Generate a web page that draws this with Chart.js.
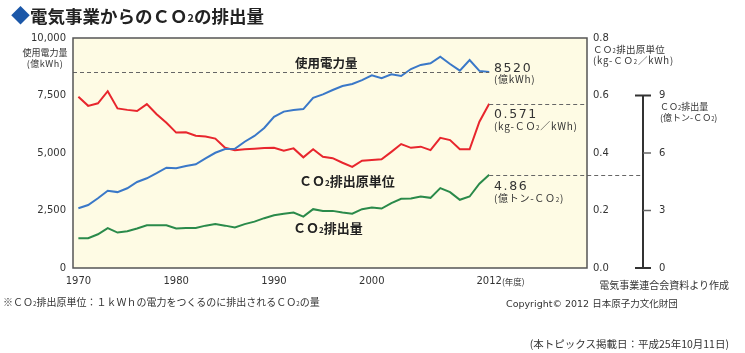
<!DOCTYPE html>
<html lang="ja">
<head>
<meta charset="utf-8">
<script src="https://cdn.jsdelivr.net/npm/chart.js@4.4.1/dist/chart.umd.min.js"></script>
<style>
  body { margin: 0; background: #fff; overflow: hidden; }
  #wrap { position: relative; width: 745px; height: 353px; font-family: "DejaVu Sans", "Noto Sans CJK JP", sans-serif; color: #333; }
  #wrap canvas { position: absolute; left: 0; top: 0; }
  .t { position: absolute; white-space: nowrap; line-height: 1; transform: translateY(-50%); }
  .c { transform: translate(-50%, -50%); }
  .r { transform: translate(-100%, -50%); }
  .jp { font-family: "Noto Sans CJK JP", sans-serif; }
  .b { font-weight: bold; color: #222; }
  .s { font-size: 62%; }
  .num { font-size: 12.5px; letter-spacing: 1.6px; }
  .unit { font-size: 10px; letter-spacing: 0.7px; }
</style>
</head>
<body>
<div id="wrap">
  <canvas id="chart" width="745" height="353"></canvas>

  <div class="t jp b" style="left:11px; top:15px; font-size:17.5px;"><span style="color:#1b57a8; font-size:19px;">◆</span>電気事業からのＣＯ<span class="s" style="vertical-align:0.1em;">2</span>の排出量</div>

  <div class="t c jp" style="left:45px; top:52px; font-size:9px;">使用電力量</div>
  <div class="t c jp" style="left:45px; top:63px; font-size:9px; letter-spacing:0.5px;">(億kWh)</div>

  <div class="t jp b" style="left:295px; top:63px; font-size:12.5px;">使用電力量</div>
  <div class="t jp b" style="left:299px; top:181px; font-size:13px;">ＣＯ<span class="s">2</span>排出原単位</div>
  <div class="t jp b" style="left:293px; top:228px; font-size:13px;">ＣＯ<span class="s">2</span>排出量</div>

  <div class="t num" style="left:494px; top:68px;">8520</div>
  <div class="t jp unit" style="left:494px; top:79px;">(億kWh)</div>
  <div class="t num" style="left:494px; top:114px;">0.571</div>
  <div class="t jp unit" style="left:494px; top:126px;">(kg-ＣＯ<span class="s">2</span>／kWh)</div>
  <div class="t num" style="left:494px; top:186px;">4.86</div>
  <div class="t jp unit" style="left:494px; top:198px;">(億トン-ＣＯ<span class="s">2</span>)</div>

  <div class="t jp" style="left:593px; top:50px; font-size:9.5px; letter-spacing:0.3px;">ＣＯ<span class="s">2</span>排出原単位</div>
  <div class="t jp" style="left:593px; top:61px; font-size:9.5px; letter-spacing:0.8px;">(kg-ＣＯ<span class="s">2</span>／kWh)</div>
  <div class="t jp" style="left:660px; top:107px; font-size:9px;">ＣＯ<span class="s">2</span>排出量</div>
  <div class="t jp" style="left:660px; top:118px; font-size:9px;">(億トン-ＣＯ<span class="s">2</span>)</div>

  <div class="t jp" style="left:502px; top:281px; font-size:8.5px;">(年度)</div>

  <div class="t jp" style="left:3px; top:302px; font-size:10px;">※ＣＯ<span class="s">2</span>排出原単位：１ｋＷｈの電力をつくるのに排出されるＣＯ<span class="s">2</span>の量</div>
  <div class="t r jp" style="left:729px; top:285px; font-size:10px;">電気事業連合会資料より作成</div>
  <div class="t" style="left:506px; top:304px; font-size:9.5px;">Copyright© 2012 <span class="jp">日本原子力文化財団</span></div>
  <div class="t r jp" style="left:729px; top:344px; font-size:10.5px;">(本トピックス掲載日：平成25年10月11日)</div>
</div>

<script>
// fiscal years
const years = [1970, 1971, 1972, 1973, 1974, 1975, 1976, 1977, 1978, 1979,
  1980, 1981, 1982, 1983, 1984, 1985, 1986, 1987, 1988, 1989,
  1990, 1991, 1992, 1993, 1994, 1995, 1996, 1997, 1998, 1999,
  2000, 2001, 2002, 2003, 2004, 2005, 2006, 2007, 2008, 2009,
  2010, 2011, 2012];

// electricity used (億kWh)
const usage = [2600, 2740, 3030, 3360, 3300, 3465, 3740, 3900, 4120, 4360,
  4335, 4435, 4510, 4770, 5010, 5170, 5180, 5490, 5740, 6090,
  6570, 6800, 6870, 6910, 7400, 7550, 7740, 7910, 8000, 8170,
  8380, 8250, 8420, 8350, 8650, 8830, 8900, 9190, 8870, 8580,
  9040, 8570, 8520];

// CO2 intensity (kg-CO2/kWh)
const intensity = [0.596, 0.564, 0.573, 0.615, 0.555, 0.550, 0.546, 0.570, 0.535, 0.505,
  0.471, 0.472, 0.460, 0.457, 0.450, 0.418, 0.410, 0.413, 0.415, 0.417,
  0.418, 0.408, 0.416, 0.385, 0.413, 0.387, 0.382, 0.366, 0.352, 0.373,
  0.376, 0.378, 0.404, 0.431, 0.418, 0.422, 0.410, 0.453, 0.445, 0.413,
  0.413, 0.509, 0.571];

// CO2 emissions (億トン-CO2)
const emissions = [1.55, 1.55, 1.76, 2.08, 1.85, 1.92, 2.06, 2.23, 2.23, 2.23,
  2.06, 2.09, 2.09, 2.21, 2.29, 2.21, 2.11, 2.29, 2.42, 2.60,
  2.75, 2.83, 2.89, 2.68, 3.07, 2.98, 2.98, 2.89, 2.83, 3.07,
  3.16, 3.10, 3.39, 3.61, 3.63, 3.73, 3.66, 4.17, 3.96, 3.56,
  3.73, 4.40, 4.86];

const xTicks = [1970, 1980, 1990, 2000, 2012];
const usageTicks = [0, 2500, 5000, 7500, 10000];
const intensityTicks = [0, 0.2, 0.4, 0.6, 0.8];
const emissionTicks = [0, 3, 6, 9];

const tickFont = { family: 'DejaVu Sans', size: 10 };
const thirdAxisX = 643;

function points(values) {
  return years.map((yr, i) => ({ x: yr, y: values[i] }));
}

// plot background, frame, dashed reference lines and the third (emissions) axis
const decor = {
  id: 'decor',
  beforeDraw(chart) {
    const a = chart.chartArea, ctx = chart.ctx;
    ctx.save();
    ctx.fillStyle = '#fefbe4';
    ctx.fillRect(a.left, a.top, a.right - a.left, a.bottom - a.top);
    ctx.restore();
  },
  afterDatasetsDraw(chart) {
    const a = chart.chartArea, ctx = chart.ctx, s = chart.scales;
    const last = years.length - 1;
    const xEnd = s.x.getPixelForValue(years[last]);

    ctx.save();
    ctx.strokeStyle = '#666';
    ctx.lineWidth = 1;
    ctx.setLineDash([4, 3]);
    let y = Math.round(s.y.getPixelForValue(usage[last])) + 0.5;
    ctx.beginPath(); ctx.moveTo(a.left, y); ctx.lineTo(xEnd, y); ctx.stroke();
    y = Math.round(s.y1.getPixelForValue(intensity[last])) + 0.5;
    ctx.beginPath(); ctx.moveTo(xEnd, y); ctx.lineTo(a.right, y); ctx.stroke();
    y = Math.round(s.y2.getPixelForValue(emissions[last])) + 0.5;
    ctx.beginPath(); ctx.moveTo(xEnd, y); ctx.lineTo(thirdAxisX, y); ctx.stroke();
    ctx.setLineDash([]);

    // frame
    ctx.strokeStyle = '#555';
    ctx.lineWidth = 1.5;
    ctx.strokeRect(a.left, a.top, a.right - a.left, a.bottom - a.top);

    // emissions axis
    const top = s.y2.getPixelForValue(emissionTicks[emissionTicks.length - 1]);
    const bottom = s.y2.getPixelForValue(emissionTicks[0]);
    ctx.strokeStyle = '#333';
    ctx.lineWidth = 2;
    ctx.beginPath(); ctx.moveTo(thirdAxisX, top); ctx.lineTo(thirdAxisX, bottom); ctx.stroke();
    ctx.font = '10px "DejaVu Sans"';
    ctx.fillStyle = '#333';
    ctx.textBaseline = 'middle';
    emissionTicks.forEach((v, i) => {
      const ty = s.y2.getPixelForValue(v);
      const endTick = i === 0 || i === emissionTicks.length - 1;
      ctx.lineWidth = endTick ? 2 : 1.5;
      ctx.strokeStyle = endTick ? '#333' : '#666';
      ctx.beginPath();
      ctx.moveTo(endTick ? thirdAxisX - 8 : thirdAxisX, ty);
      ctx.lineTo(thirdAxisX + 8, ty);
      ctx.stroke();
      ctx.fillText(String(v), thirdAxisX + 16, ty);
    });
    ctx.restore();
  }
};

new Chart(document.getElementById('chart'), {
  type: 'line',
  data: {
    datasets: [{
      label: '使用電力量',
      data: points(usage),
      borderColor: '#3a78c8',
      yAxisID: 'y'
    }, {
      label: 'CO2排出原単位',
      data: points(intensity),
      borderColor: '#e8262d',
      yAxisID: 'y1'
    }, {
      label: 'CO2排出量',
      data: points(emissions),
      borderColor: '#2a8a4a',
      yAxisID: 'y2'
    }]
  },
  options: {
    responsive: false,
    animation: false,
    layout: { padding: { top: 38, left: 0, right: 0, bottom: 0 } },
    elements: {
      point: { radius: 0 },
      line: { borderWidth: 2, tension: 0 }
    },
    plugins: {
      legend: { display: false },
      tooltip: { enabled: false }
    },
    scales: {
      x: {
        type: 'linear',
        min: 1969.45,
        max: 2022,
        grid: { display: false, drawTicks: false },
        border: { display: false },
        afterBuildTicks: s => { s.ticks = xTicks.map(v => ({ value: v })); },
        afterFit: s => { s.height = 85; },
        ticks: { padding: 7, color: '#333', font: tickFont, maxRotation: 0, autoSkip: false, callback: v => String(v) }
      },
      y: {
        position: 'left',
        min: 0,
        max: 10000,
        grid: { display: false, drawTicks: false },
        border: { display: false },
        afterBuildTicks: s => { s.ticks = usageTicks.map(v => ({ value: v })); },
        afterFit: s => { s.width = 73; },
        ticks: { padding: 7, color: '#333', font: tickFont, callback: v => v.toLocaleString('en-US') }
      },
      y1: {
        position: 'right',
        min: 0,
        max: 0.8,
        grid: { display: false, drawTicks: false },
        border: { display: false },
        afterBuildTicks: s => { s.ticks = intensityTicks.map(v => ({ value: v })); },
        afterFit: s => { s.width = 158; },
        ticks: { padding: 6, color: '#333', font: tickFont, callback: v => v.toFixed(1) }
      },
      y2: {
        display: false,
        min: 0,
        max: 12
      }
    }
  },
  plugins: [decor]
});
</script>
</body>
</html>
